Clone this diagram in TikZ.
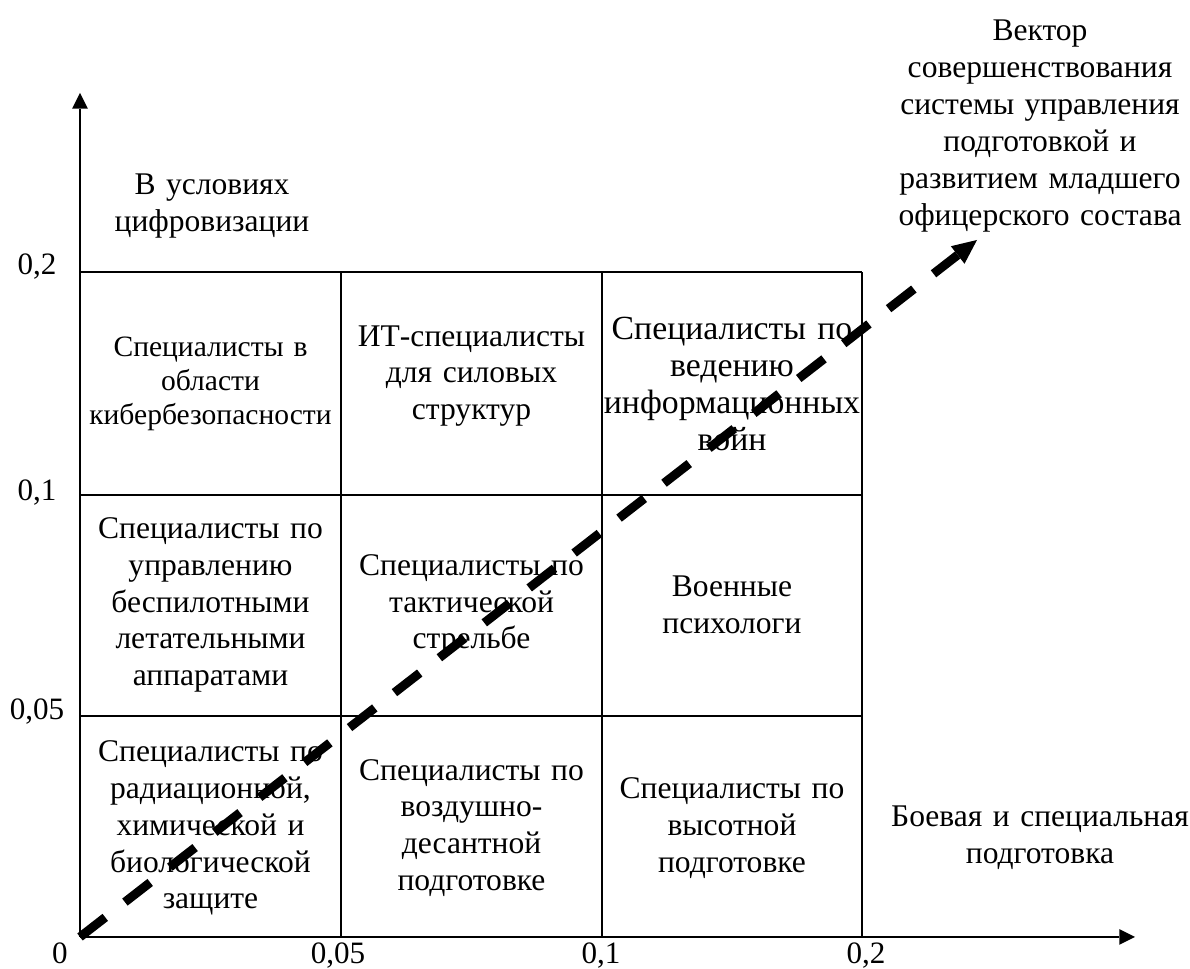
\documentclass[tikz,border=0pt]{standalone}
\usepackage{fontspec}
\setmainfont{Liberation Serif}
\usetikzlibrary{arrows.meta}

\tikzset{
  cell/.style={align=center, text width=130pt, inner sep=0pt,
    font=\fontsize{14.2}{16.6}\selectfont},
  smallcell/.style={cell, font=\fontsize{13.3}{15.3}\selectfont},
  bigcell/.style={cell, font=\fontsize{15.2}{16.6}\selectfont},
  ticklabel/.style={inner sep=0pt, font=\fontsize{14}{16.6}\selectfont},
  xlabel/.style={ticklabel, anchor=base},
  gridline/.style={line width=0.9pt},
  axis/.style={line width=1pt, -{Triangle[length=7pt,width=7pt,line width=0pt]}},
  vector/.style={line width=4pt, dash pattern=on 14.4pt off 11.2pt,
    -{Triangle[length=11pt,width=10pt,line width=0pt]}}
}

\begin{document}
\begin{tikzpicture}[x=0.45pt, y=0.45pt]
    \useasboundingbox (-80,-32) rectangle (1110,937);

    \coordinate (O) at (0,0);
    \coordinate (ytop) at (0,844);
    \coordinate (xend) at (1055,0);
    \coordinate (vtip) at (897,697);

    % grid
    \foreach \x in {261,522,782} \draw[gridline] (\x,0) -- (\x,665);
    \foreach \y in {221,442,665} \draw[gridline] (0,\y) -- (782,\y);

    % axes
    \draw[axis] (O) -- (ytop);
    \draw[axis] (O) -- (xend);

    % tick labels
    \node[ticklabel] (y2)  at (-43,670) {0,2};
    \node[ticklabel] (y1)  at (-43,444) {0,1};
    \node[ticklabel] (y05) at (-43,225) {0,05};
    \node[xlabel] (o)   at (-20,-27) {0};
    \node[xlabel] (x05) at (258,-27) {0,05};
    \node[xlabel] (x1)  at (521,-27) {0,1};
    \node[xlabel] (x2)  at (786,-27) {0,2};

    % axis titles
    \node[cell] (digital) at (132,731) {В условиях\\цифровизации};
    \node[cell, text width=150pt] (combat) at (960,99) {Боевая и специальная\\подготовка};
    \node[cell, text width=150pt] (vlabel) at (960,811)
      {Вектор\\совершенствования\\системы управления\\подготовкой и\\развитием младшего\\офицерского состава};

    % top row
    \node[smallcell] (cyber) at (130.5,553) {Специалисты в\\области\\кибербезопасности};
    \node[cell] (itsec) at (391.5,561) {ИТ-специалисты\\для силовых\\структур};
    \node[bigcell] (infowar) at (652,553) {Специалисты по\\ведению\\информационных\\войн};

    % middle row
    \node[cell] (uav) at (130.5,332) {Специалисты по\\управлению\\беспилотными\\летательными\\аппаратами};
    \node[cell] (tactic) at (391.5,332) {Специалисты по\\тактической\\стрельбе};
    \node[cell] (psych) at (652,332) {Военные\\психологи};

    % bottom row
    \node[cell] (rchb) at (130.5,109) {Специалисты по\\радиационной,\\химической и\\биологической\\защите};
    \node[cell] (airborne) at (391.5,109) {Специалисты по\\воздушно-\\десантной\\подготовке};
    \node[cell] (altitude) at (652,109) {Специалисты по\\высотной\\подготовке};

    % development vector
    \draw[vector] (O) -- (vtip);
\end{tikzpicture}
\end{document}
